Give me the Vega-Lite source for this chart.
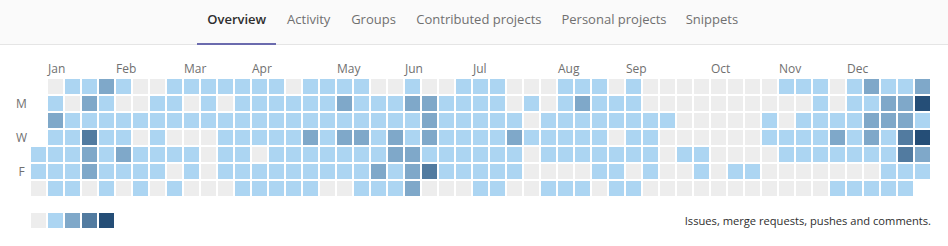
{
  "$schema": "https://vega.github.io/schema/vega-lite/v6.json",
  "width": 948,
  "height": 246,
  "autosize": {"type": "none"},
  "padding": 0,
  "background": "#ffffff",
  "config": {"view": {"stroke": null}, "font": "Open Sans"},
  "datasets": {
    "tabs": [
      {"tab": "Overview", "active": true},
      {"tab": "Activity", "active": false},
      {"tab": "Groups", "active": false},
      {"tab": "Contributed projects", "active": false},
      {"tab": "Personal projects", "active": false},
      {"tab": "Snippets", "active": false}
    ],
    "months": [
      {"month": "Jan", "week": 1}, {"month": "Feb", "week": 5}, {"month": "Mar", "week": 9},
      {"month": "Apr", "week": 13}, {"month": "May", "week": 18}, {"month": "Jun", "week": 22},
      {"month": "Jul", "week": 26}, {"month": "Aug", "week": 31}, {"month": "Sep", "week": 35},
      {"month": "Oct", "week": 40}, {"month": "Nov", "week": 44}, {"month": "Dec", "week": 48}
    ],
    "days": [{"day": 1, "label": "M"}, {"day": 3, "label": "W"}, {"day": 5, "label": "F"}],
    "legend": [{"level": 0}, {"level": 1}, {"level": 2}, {"level": 3}, {"level": 4}],
    "cells": [
      {"week":0,"day":4,"level":1},{"week":0,"day":5,"level":1},{"week":0,"day":6,"level":0},
      {"week":1,"day":0,"level":0},{"week":1,"day":1,"level":1},{"week":1,"day":2,"level":2},{"week":1,"day":3,"level":1},{"week":1,"day":4,"level":1},{"week":1,"day":5,"level":1},{"week":1,"day":6,"level":1},
      {"week":2,"day":0,"level":1},{"week":2,"day":1,"level":0},{"week":2,"day":2,"level":1},{"week":2,"day":3,"level":1},{"week":2,"day":4,"level":1},{"week":2,"day":5,"level":1},{"week":2,"day":6,"level":1},
      {"week":3,"day":0,"level":1},{"week":3,"day":1,"level":2},{"week":3,"day":2,"level":1},{"week":3,"day":3,"level":3},{"week":3,"day":4,"level":2},{"week":3,"day":5,"level":2},{"week":3,"day":6,"level":0},
      {"week":4,"day":0,"level":2},{"week":4,"day":1,"level":1},{"week":4,"day":2,"level":1},{"week":4,"day":3,"level":1},{"week":4,"day":4,"level":1},{"week":4,"day":5,"level":1},{"week":4,"day":6,"level":1},
      {"week":5,"day":0,"level":1},{"week":5,"day":1,"level":0},{"week":5,"day":2,"level":1},{"week":5,"day":3,"level":1},{"week":5,"day":4,"level":2},{"week":5,"day":5,"level":1},{"week":5,"day":6,"level":0},
      {"week":6,"day":0,"level":0},{"week":6,"day":1,"level":0},{"week":6,"day":2,"level":1},{"week":6,"day":3,"level":0},{"week":6,"day":4,"level":1},{"week":6,"day":5,"level":1},{"week":6,"day":6,"level":1},
      {"week":7,"day":0,"level":0},{"week":7,"day":1,"level":1},{"week":7,"day":2,"level":1},{"week":7,"day":3,"level":1},{"week":7,"day":4,"level":1},{"week":7,"day":5,"level":1},{"week":7,"day":6,"level":0},
      {"week":8,"day":0,"level":1},{"week":8,"day":1,"level":1},{"week":8,"day":2,"level":1},{"week":8,"day":3,"level":0},{"week":8,"day":4,"level":1},{"week":8,"day":5,"level":0},{"week":8,"day":6,"level":1},
      {"week":9,"day":0,"level":1},{"week":9,"day":1,"level":0},{"week":9,"day":2,"level":1},{"week":9,"day":3,"level":0},{"week":9,"day":4,"level":1},{"week":9,"day":5,"level":1},{"week":9,"day":6,"level":0},
      {"week":10,"day":0,"level":1},{"week":10,"day":1,"level":1},{"week":10,"day":2,"level":1},{"week":10,"day":3,"level":0},{"week":10,"day":4,"level":0},{"week":10,"day":5,"level":0},{"week":10,"day":6,"level":0},
      {"week":11,"day":0,"level":1},{"week":11,"day":1,"level":0},{"week":11,"day":2,"level":1},{"week":11,"day":3,"level":1},{"week":11,"day":4,"level":1},{"week":11,"day":5,"level":1},{"week":11,"day":6,"level":0},
      {"week":12,"day":0,"level":1},{"week":12,"day":1,"level":1},{"week":12,"day":2,"level":1},{"week":12,"day":3,"level":1},{"week":12,"day":4,"level":1},{"week":12,"day":5,"level":1},{"week":12,"day":6,"level":1},
      {"week":13,"day":0,"level":1},{"week":13,"day":1,"level":1},{"week":13,"day":2,"level":1},{"week":13,"day":3,"level":1},{"week":13,"day":4,"level":0},{"week":13,"day":5,"level":1},{"week":13,"day":6,"level":1},
      {"week":14,"day":0,"level":1},{"week":14,"day":1,"level":1},{"week":14,"day":2,"level":1},{"week":14,"day":3,"level":1},{"week":14,"day":4,"level":1},{"week":14,"day":5,"level":1},{"week":14,"day":6,"level":1},
      {"week":15,"day":0,"level":0},{"week":15,"day":1,"level":1},{"week":15,"day":2,"level":1},{"week":15,"day":3,"level":1},{"week":15,"day":4,"level":1},{"week":15,"day":5,"level":1},{"week":15,"day":6,"level":1},
      {"week":16,"day":0,"level":1},{"week":16,"day":1,"level":1},{"week":16,"day":2,"level":1},{"week":16,"day":3,"level":2},{"week":16,"day":4,"level":1},{"week":16,"day":5,"level":1},{"week":16,"day":6,"level":1},
      {"week":17,"day":0,"level":1},{"week":17,"day":1,"level":1},{"week":17,"day":2,"level":1},{"week":17,"day":3,"level":1},{"week":17,"day":4,"level":1},{"week":17,"day":5,"level":1},{"week":17,"day":6,"level":0},
      {"week":18,"day":0,"level":1},{"week":18,"day":1,"level":2},{"week":18,"day":2,"level":1},{"week":18,"day":3,"level":2},{"week":18,"day":4,"level":1},{"week":18,"day":5,"level":1},{"week":18,"day":6,"level":0},
      {"week":19,"day":0,"level":1},{"week":19,"day":1,"level":1},{"week":19,"day":2,"level":1},{"week":19,"day":3,"level":2},{"week":19,"day":4,"level":1},{"week":19,"day":5,"level":1},{"week":19,"day":6,"level":1},
      {"week":20,"day":0,"level":0},{"week":20,"day":1,"level":1},{"week":20,"day":2,"level":1},{"week":20,"day":3,"level":1},{"week":20,"day":4,"level":1},{"week":20,"day":5,"level":2},{"week":20,"day":6,"level":1},
      {"week":21,"day":0,"level":0},{"week":21,"day":1,"level":1},{"week":21,"day":2,"level":1},{"week":21,"day":3,"level":2},{"week":21,"day":4,"level":2},{"week":21,"day":5,"level":1},{"week":21,"day":6,"level":1},
      {"week":22,"day":0,"level":1},{"week":22,"day":1,"level":2},{"week":22,"day":2,"level":1},{"week":22,"day":3,"level":1},{"week":22,"day":4,"level":2},{"week":22,"day":5,"level":2},{"week":22,"day":6,"level":2},
      {"week":23,"day":0,"level":0},{"week":23,"day":1,"level":2},{"week":23,"day":2,"level":2},{"week":23,"day":3,"level":2},{"week":23,"day":4,"level":1},{"week":23,"day":5,"level":3},{"week":23,"day":6,"level":0},
      {"week":24,"day":0,"level":0},{"week":24,"day":1,"level":1},{"week":24,"day":2,"level":1},{"week":24,"day":3,"level":1},{"week":24,"day":4,"level":1},{"week":24,"day":5,"level":1},{"week":24,"day":6,"level":0},
      {"week":25,"day":0,"level":1},{"week":25,"day":1,"level":1},{"week":25,"day":2,"level":1},{"week":25,"day":3,"level":1},{"week":25,"day":4,"level":1},{"week":25,"day":5,"level":1},{"week":25,"day":6,"level":0},
      {"week":26,"day":0,"level":1},{"week":26,"day":1,"level":1},{"week":26,"day":2,"level":1},{"week":26,"day":3,"level":1},{"week":26,"day":4,"level":1},{"week":26,"day":5,"level":1},{"week":26,"day":6,"level":1},
      {"week":27,"day":0,"level":1},{"week":27,"day":1,"level":1},{"week":27,"day":2,"level":1},{"week":27,"day":3,"level":1},{"week":27,"day":4,"level":1},{"week":27,"day":5,"level":1},{"week":27,"day":6,"level":1},
      {"week":28,"day":0,"level":0},{"week":28,"day":1,"level":0},{"week":28,"day":2,"level":1},{"week":28,"day":3,"level":2},{"week":28,"day":4,"level":1},{"week":28,"day":5,"level":1},{"week":28,"day":6,"level":0},
      {"week":29,"day":0,"level":0},{"week":29,"day":1,"level":1},{"week":29,"day":2,"level":0},{"week":29,"day":3,"level":1},{"week":29,"day":4,"level":0},{"week":29,"day":5,"level":0},{"week":29,"day":6,"level":0},
      {"week":30,"day":0,"level":0},{"week":30,"day":1,"level":0},{"week":30,"day":2,"level":1},{"week":30,"day":3,"level":1},{"week":30,"day":4,"level":1},{"week":30,"day":5,"level":0},{"week":30,"day":6,"level":1},
      {"week":31,"day":0,"level":1},{"week":31,"day":1,"level":1},{"week":31,"day":2,"level":1},{"week":31,"day":3,"level":1},{"week":31,"day":4,"level":1},{"week":31,"day":5,"level":0},{"week":31,"day":6,"level":1},
      {"week":32,"day":0,"level":1},{"week":32,"day":1,"level":2},{"week":32,"day":2,"level":1},{"week":32,"day":3,"level":1},{"week":32,"day":4,"level":1},{"week":32,"day":5,"level":0},{"week":32,"day":6,"level":1},
      {"week":33,"day":0,"level":1},{"week":33,"day":1,"level":1},{"week":33,"day":2,"level":1},{"week":33,"day":3,"level":1},{"week":33,"day":4,"level":1},{"week":33,"day":5,"level":1},{"week":33,"day":6,"level":0},
      {"week":34,"day":0,"level":0},{"week":34,"day":1,"level":1},{"week":34,"day":2,"level":1},{"week":34,"day":3,"level":0},{"week":34,"day":4,"level":1},{"week":34,"day":5,"level":1},{"week":34,"day":6,"level":1},
      {"week":35,"day":0,"level":1},{"week":35,"day":1,"level":1},{"week":35,"day":2,"level":1},{"week":35,"day":3,"level":1},{"week":35,"day":4,"level":1},{"week":35,"day":5,"level":0},{"week":35,"day":6,"level":1},
      {"week":36,"day":0,"level":0},{"week":36,"day":1,"level":0},{"week":36,"day":2,"level":1},{"week":36,"day":3,"level":1},{"week":36,"day":4,"level":1},{"week":36,"day":5,"level":1},{"week":36,"day":6,"level":0},
      {"week":37,"day":0,"level":0},{"week":37,"day":1,"level":0},{"week":37,"day":2,"level":1},{"week":37,"day":3,"level":0},{"week":37,"day":4,"level":0},{"week":37,"day":5,"level":0},{"week":37,"day":6,"level":0},
      {"week":38,"day":0,"level":0},{"week":38,"day":1,"level":0},{"week":38,"day":2,"level":0},{"week":38,"day":3,"level":0},{"week":38,"day":4,"level":1},{"week":38,"day":5,"level":0},{"week":38,"day":6,"level":0},
      {"week":39,"day":0,"level":0},{"week":39,"day":1,"level":0},{"week":39,"day":2,"level":0},{"week":39,"day":3,"level":0},{"week":39,"day":4,"level":1},{"week":39,"day":5,"level":1},{"week":39,"day":6,"level":0},
      {"week":40,"day":0,"level":0},{"week":40,"day":1,"level":0},{"week":40,"day":2,"level":0},{"week":40,"day":3,"level":0},{"week":40,"day":4,"level":0},{"week":40,"day":5,"level":0},{"week":40,"day":6,"level":0},
      {"week":41,"day":0,"level":0},{"week":41,"day":1,"level":0},{"week":41,"day":2,"level":0},{"week":41,"day":3,"level":0},{"week":41,"day":4,"level":0},{"week":41,"day":5,"level":1},{"week":41,"day":6,"level":0},
      {"week":42,"day":0,"level":0},{"week":42,"day":1,"level":0},{"week":42,"day":2,"level":0},{"week":42,"day":3,"level":0},{"week":42,"day":4,"level":0},{"week":42,"day":5,"level":1},{"week":42,"day":6,"level":0},
      {"week":43,"day":0,"level":0},{"week":43,"day":1,"level":0},{"week":43,"day":2,"level":1},{"week":43,"day":3,"level":1},{"week":43,"day":4,"level":0},{"week":43,"day":5,"level":0},{"week":43,"day":6,"level":0},
      {"week":44,"day":0,"level":1},{"week":44,"day":1,"level":0},{"week":44,"day":2,"level":0},{"week":44,"day":3,"level":1},{"week":44,"day":4,"level":1},{"week":44,"day":5,"level":0},{"week":44,"day":6,"level":0},
      {"week":45,"day":0,"level":1},{"week":45,"day":1,"level":0},{"week":45,"day":2,"level":1},{"week":45,"day":3,"level":1},{"week":45,"day":4,"level":1},{"week":45,"day":5,"level":0},{"week":45,"day":6,"level":0},
      {"week":46,"day":0,"level":1},{"week":46,"day":1,"level":1},{"week":46,"day":2,"level":1},{"week":46,"day":3,"level":1},{"week":46,"day":4,"level":1},{"week":46,"day":5,"level":0},{"week":46,"day":6,"level":0},
      {"week":47,"day":0,"level":0},{"week":47,"day":1,"level":0},{"week":47,"day":2,"level":1},{"week":47,"day":3,"level":2},{"week":47,"day":4,"level":1},{"week":47,"day":5,"level":0},{"week":47,"day":6,"level":1},
      {"week":48,"day":0,"level":1},{"week":48,"day":1,"level":1},{"week":48,"day":2,"level":1},{"week":48,"day":3,"level":1},{"week":48,"day":4,"level":1},{"week":48,"day":5,"level":0},{"week":48,"day":6,"level":1},
      {"week":49,"day":0,"level":2},{"week":49,"day":1,"level":1},{"week":49,"day":2,"level":2},{"week":49,"day":3,"level":2},{"week":49,"day":4,"level":1},{"week":49,"day":5,"level":0},{"week":49,"day":6,"level":1},
      {"week":50,"day":0,"level":1},{"week":50,"day":1,"level":2},{"week":50,"day":2,"level":2},{"week":50,"day":3,"level":1},{"week":50,"day":4,"level":1},{"week":50,"day":5,"level":1},{"week":50,"day":6,"level":1},
      {"week":51,"day":0,"level":1},{"week":51,"day":1,"level":2},{"week":51,"day":2,"level":2},{"week":51,"day":3,"level":3},{"week":51,"day":4,"level":3},{"week":51,"day":5,"level":1},{"week":51,"day":6,"level":1},
      {"week":52,"day":0,"level":2},{"week":52,"day":1,"level":4},{"week":52,"day":2,"level":1},{"week":52,"day":3,"level":4},{"week":52,"day":4,"level":2},{"week":52,"day":5,"level":1}
    ]
  },
  "resolve": {"scale": {"x": "independent", "y": "independent", "color": "independent"}},
  "layer": [
    {
      "data": {"values": [{}]},
      "mark": {"type": "rect", "color": "#fafafa"},
      "encoding": {"x": {"value": 0}, "x2": {"value": 948}, "y": {"value": 0}, "y2": {"value": 44}}
    },
    {
      "data": {"values": [{}]},
      "mark": {"type": "rule", "color": "#e5e5e5", "strokeWidth": 1},
      "encoding": {"x": {"value": 0}, "x2": {"value": 948}, "y": {"value": 44.5}}
    },
    {
      "data": {"values": [{}]},
      "mark": {"type": "rule", "color": "#6b6bae", "strokeWidth": 2},
      "encoding": {"x": {"value": 197}, "x2": {"value": 276}, "y": {"value": 44}}
    },
    {
      "data": {"name": "tabs"},
      "transform": [{"filter": "datum.tab === 'Overview'"}],
      "mark": {"type": "text", "fontSize": 13, "fontWeight": 600, "color": "#2e2e2e", "align": "center", "baseline": "alphabetic"},
      "encoding": {"x": {"value": 236.7}, "y": {"value": 23.5}, "text": {"field": "tab"}}
    },
    {
      "data": {"name": "tabs"},
      "transform": [{"filter": "datum.tab === 'Activity'"}],
      "mark": {"type": "text", "fontSize": 13, "color": "#707070", "align": "center", "baseline": "alphabetic"},
      "encoding": {"x": {"value": 308.7}, "y": {"value": 23.5}, "text": {"field": "tab"}}
    },
    {
      "data": {"name": "tabs"},
      "transform": [{"filter": "datum.tab === 'Groups'"}],
      "mark": {"type": "text", "fontSize": 13, "color": "#707070", "align": "center", "baseline": "alphabetic"},
      "encoding": {"x": {"value": 373.5}, "y": {"value": 23.5}, "text": {"field": "tab"}}
    },
    {
      "data": {"name": "tabs"},
      "transform": [{"filter": "datum.tab === 'Contributed projects'"}],
      "mark": {"type": "text", "fontSize": 13, "color": "#707070", "align": "center", "baseline": "alphabetic"},
      "encoding": {"x": {"value": 478.9}, "y": {"value": 23.5}, "text": {"field": "tab"}}
    },
    {
      "data": {"name": "tabs"},
      "transform": [{"filter": "datum.tab === 'Personal projects'"}],
      "mark": {"type": "text", "fontSize": 13, "color": "#707070", "align": "center", "baseline": "alphabetic"},
      "encoding": {"x": {"value": 614}, "y": {"value": 23.5}, "text": {"field": "tab"}}
    },
    {
      "data": {"name": "tabs"},
      "transform": [{"filter": "datum.tab === 'Snippets'"}],
      "mark": {"type": "text", "fontSize": 13, "color": "#707070", "align": "center", "baseline": "alphabetic"},
      "encoding": {"x": {"value": 711.9}, "y": {"value": 23.5}, "text": {"field": "tab"}}
    },
    {
      "layer": [
        {
          "data": {"name": "cells"},
          "mark": {"type": "rect"},
          "encoding": {
            "x": {"field": "week", "type": "ordinal", "axis": null,
                  "scale": {"domain": [0,1,2,3,4,5,6,7,8,9,10,11,12,13,14,15,16,17,18,19,20,21,22,23,24,25,26,27,28,29,30,31,32,33,34,35,36,37,38,39,40,41,42,43,44,45,46,47,48,49,50,51,52],
                            "range": [31, 930], "paddingInner": 0.117647, "paddingOuter": 0}},
            "y": {"field": "day", "type": "ordinal", "axis": null,
                  "scale": {"domain": [0,1,2,3,4,5,6], "range": [79, 196], "paddingInner": 0.117647, "paddingOuter": 0}},
            "color": {"field": "level", "type": "ordinal", "legend": null,
                      "scale": {"domain": [0,1,2,3,4], "range": ["#ededed", "#acd5f2", "#7fa8c9", "#527ba0", "#254e77"]}}
          }
        },
        {
          "data": {"name": "months"},
          "mark": {"type": "text", "fontSize": 12, "color": "#707070", "align": "left", "baseline": "alphabetic"},
          "encoding": {
            "x": {"field": "week", "type": "ordinal", "bandPosition": 0},
            "y": {"value": 73},
            "text": {"field": "month"}
          }
        },
        {
          "data": {"name": "days"},
          "mark": {"type": "text", "fontSize": 12, "color": "#707070", "align": "center", "baseline": "middle"},
          "encoding": {
            "x": {"value": 21.5},
            "y": {"field": "day", "type": "ordinal"},
            "text": {"field": "label"}
          }
        }
      ]
    },
    {
      "data": {"name": "legend"},
      "mark": {"type": "rect"},
      "encoding": {
        "x": {"field": "level", "type": "ordinal", "axis": null,
              "scale": {"domain": [0,1,2,3,4], "range": [31, 114], "paddingInner": 0.117647, "paddingOuter": 0}},
        "y": {"value": 213},
        "y2": {"value": 228},
        "color": {"field": "level", "type": "ordinal", "legend": null,
                  "scale": {"domain": [0,1,2,3,4], "range": ["#ededed", "#acd5f2", "#7fa8c9", "#527ba0", "#254e77"]}}
      }
    },
    {
      "data": {"values": [{"note": "Issues, merge requests, pushes and comments."}]},
      "mark": {"type": "text", "fontSize": 11.15, "color": "#2e2e2e", "align": "right", "baseline": "alphabetic"},
      "encoding": {"x": {"value": 931}, "y": {"value": 225}, "text": {"field": "note"}}
    }
  ]
}
